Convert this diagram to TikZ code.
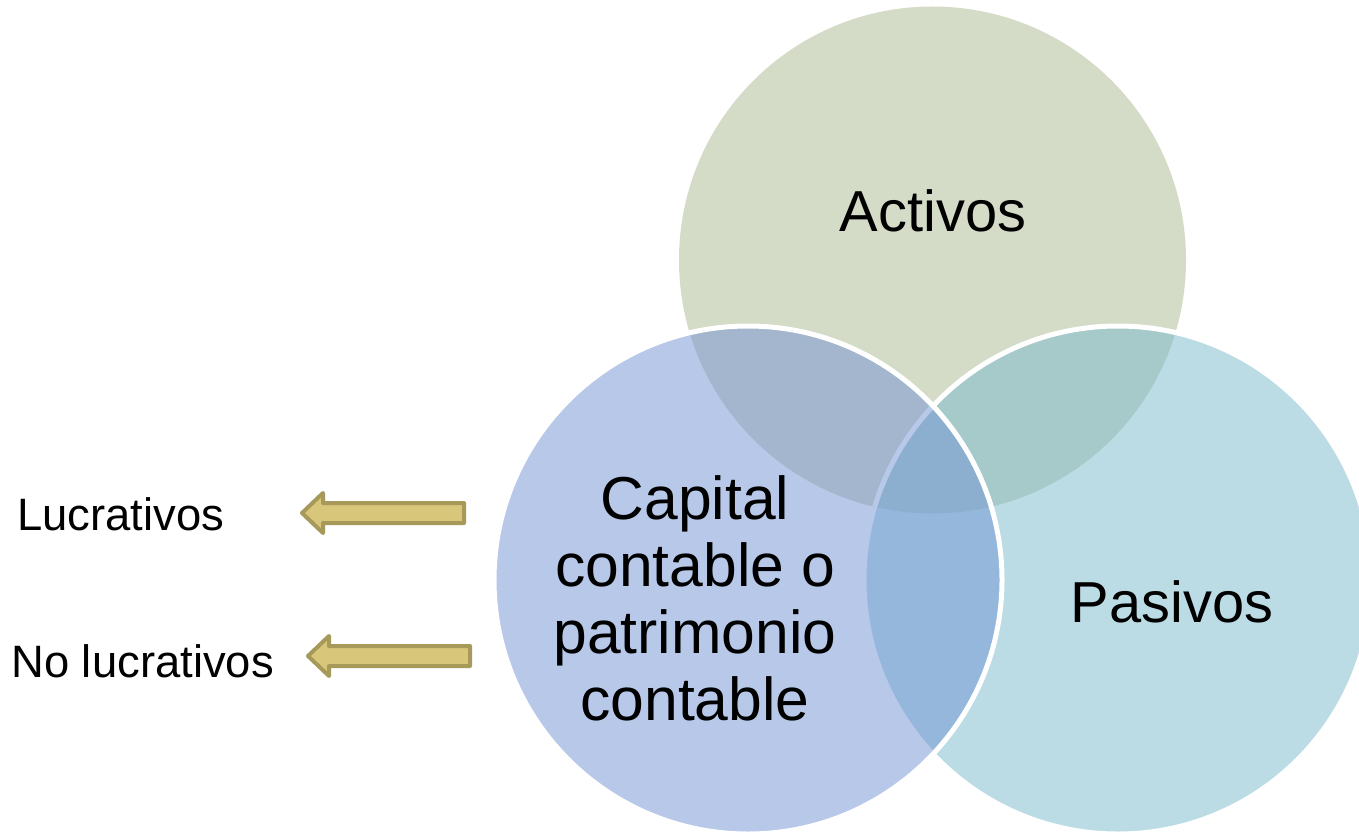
\documentclass[tikz,border=0pt]{standalone}
\usepackage{fontspec}
\setmainfont{Liberation Sans}
\begin{document}
\begin{tikzpicture}[x=0.5pt,y=-0.5pt]
\definecolor{actcol}{RGB}{171,185,145}
\definecolor{capcol}{RGB}{115,147,213}
\definecolor{pascol}{RGB}{121,187,205}
\definecolor{arrfill}{RGB}{216,198,122}
\definecolor{arrline}{RGB}{166,153,90}
\tikzset{
  venn/.style={fill opacity=0.5, line width=2.5pt},
  bigtext/.style={inner sep=0pt, font=\fontsize{28.9}{33.5}\selectfont, text=black},
  captext/.style={inner sep=0pt, align=center, font=\fontsize{30.3}{33.5}\selectfont, text=black},
  sidetext/.style={inner sep=0pt, font=\fontsize{22.7}{26}\selectfont, text=black},
  blockarrow/.style={fill=arrfill, draw=arrline, line width=2pt, line join=round}
}
\useasboundingbox (0,0) rectangle (1359,834);
\fill[white] (0,0) rectangle (1359,834);
% circles
\coordinate (cA) at (932.5,260);
\coordinate (cC) at (748,580);
\coordinate (cP) at (1118,580);
\path[venn, fill=actcol] (cA) circle (253.5);
\path[venn, fill=pascol, draw=white] (cP) circle (254);
\path[venn, fill=capcol, draw=white] (cC) circle (254);
% labels
\node[bigtext, anchor=base] (act) at (933,232) {Activos};
\node[bigtext, anchor=base] (pas) at (1172,622) {Pasivos};
\node[captext] (cap) at (695,598) {Capital\\contable o\\patrimonio\\contable};
\node[sidetext, anchor=base west] (luc) at (17,530) {Lucrativos};
\node[sidetext, anchor=base west] (noluc) at (11,677) {No lucrativos};
% block arrows
\path[blockarrow] (302,513) -- (323,493) -- (323,503) -- (464,503) -- (464,523) -- (323,523) -- (323,533) -- cycle;
\path[blockarrow] (308,656) -- (329,636) -- (329,646) -- (470,646) -- (470,666) -- (329,666) -- (329,676) -- cycle;
\end{tikzpicture}
\end{document}
